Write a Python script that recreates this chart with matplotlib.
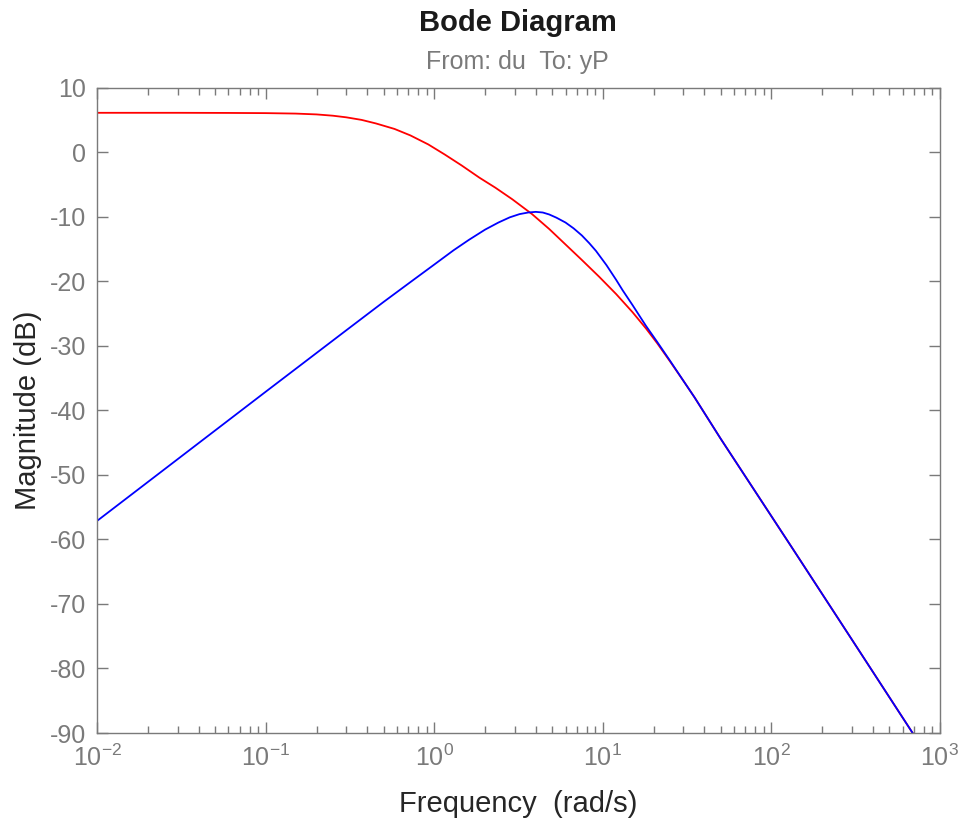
import numpy as np
import matplotlib
matplotlib.use("Agg")
import matplotlib.pyplot as plt
from matplotlib.ticker import LogLocator, FixedLocator

plt.rcParams["font.family"] = ["Liberation Sans", "DejaVu Sans"]
plt.rcParams["mathtext.default"] = "regular"
plt.rcParams["axes.unicode_minus"] = False

# frequency (rad/s) / magnitude (dB)
freq_red = [0.01, 0.03, 0.06, 0.1, 0.15, 0.2, 0.25, 0.3, 0.37, 0.45, 0.58, 0.72,
            0.92, 1.15, 1.45, 1.85, 2.3, 2.9, 3.8, 4.8, 6.0, 7.5, 9.5, 12, 15,
            18, 21, 25, 30, 35, 50, 78, 135, 300, 685, 1000]
mag_red = [6.1, 6.1, 6.08, 6.05, 5.98, 5.85, 5.65, 5.4, 5.0, 4.45, 3.6, 2.6,
           1.2, -0.35, -2.05, -3.95, -5.5, -7.3, -9.6, -11.9, -14.3, -16.7,
           -19.3, -22.0, -24.8, -27.3, -29.6, -32.4, -35.4, -38.0, -44.4, -52.1,
           -61.6, -75.5, -89.9, -96.5]

freq_blue = [0.01, 0.1, 0.3, 0.5, 0.75, 1.0, 1.3, 1.6, 2.0, 2.4, 2.8, 3.2, 3.6,
             4.0, 4.4, 4.8, 5.3, 6.0, 6.7, 7.5, 8.3, 9.1, 10.5, 12, 13.1, 15, 18,
             21, 25, 30, 35, 50, 78, 135, 300, 685, 1000]
mag_blue = [-57.1, -37.1, -27.6, -23.2, -19.8, -17.4, -15.2, -13.6, -12.0, -10.9,
            -10.1, -9.6, -9.35, -9.25, -9.35, -9.65, -10.15, -10.9, -11.8, -12.9,
            -14.1, -15.3, -17.5, -19.8, -21.4, -23.7, -26.9, -29.4, -32.3, -35.4,
            -38.0, -44.4, -52.1, -61.6, -75.5, -89.9, -96.5]

yticks = list(range(-90, 11, 10))

grey = "#7a7a7a"
fig = plt.figure(figsize=(9.64, 8.19), dpi=100)
ax = fig.add_axes([0.101, 0.105, 0.874, 0.788])

ax.semilogx(freq_red, mag_red, color="#ff0000", lw=1.3)
ax.semilogx(freq_blue, mag_blue, color="#0000ff", lw=1.3)

ax.set_xlim(1e-2, 1e3)
ax.set_ylim(-90, 10)
ax.yaxis.set_major_locator(FixedLocator(yticks))
ax.xaxis.set_major_locator(LogLocator(base=10, numticks=10))
ax.xaxis.set_minor_locator(LogLocator(base=10, subs=np.arange(2, 10), numticks=10))

for s in ax.spines.values():
    s.set_color(grey)
    s.set_linewidth(1.0)
ax.tick_params(which="both", direction="in", top=True, right=True, color=grey,
               labelcolor=grey, labelsize=18, width=1.0)
ax.tick_params(which="major", length=8)
ax.tick_params(which="minor", length=5)
ax.tick_params(axis="y", pad=8)
ax.tick_params(axis="x", pad=8)

ax.set_xlabel("Frequency  (rad/s)", fontsize=21, color="#262626", labelpad=14)
ax.set_ylabel("Magnitude (dB)", fontsize=21, color="#262626", labelpad=6)

fig.text(0.537, 0.972, "Bode Diagram", ha="center", va="center",
         fontsize=21, fontweight="bold", color="#1a1a1a")
fig.text(0.537, 0.924, "From: du  To: yP", ha="center", va="center",
         fontsize=18, color=grey)

fig.savefig("out.png", dpi=100)
